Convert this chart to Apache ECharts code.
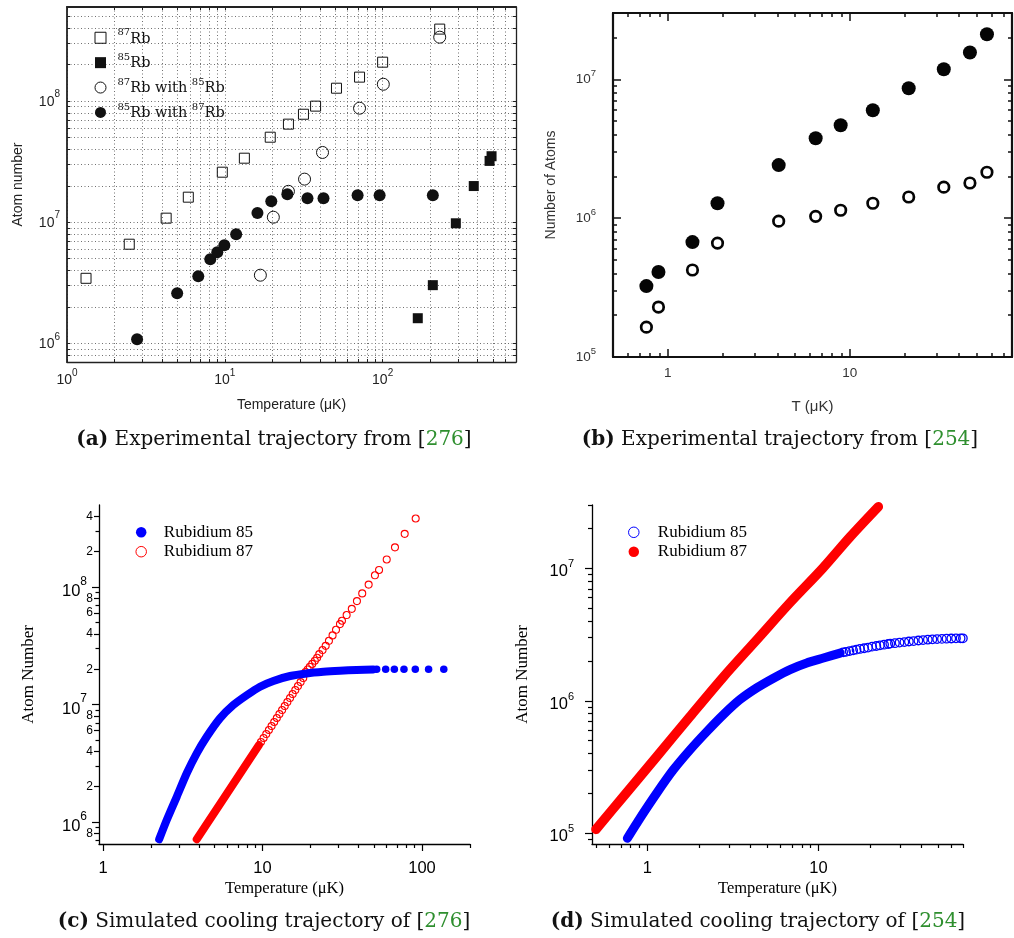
<!DOCTYPE html>
<html><head><meta charset="utf-8">
<script src="https://cdn.jsdelivr.net/npm/echarts@6/dist/echarts.min.js"></script>
<style>html,body{margin:0;padding:0;background:#fff}#c{width:1014px;height:938px}</style>
</head><body><div id="c"></div>
<script>
// ---------------- Panel (a): experimental trajectory from [276] ----------------
const a_rb87 = [[1.32,3.44e6],[2.48,6.58e6],[4.25,1.08e7],[5.87,1.61e7],[9.64,2.59e7],[13.3,3.38e7],[19.4,5.04e7],[25.3,6.46e7],[31.5,7.8e7],[37.6,9.1e7],[51,1.28e8],[71.4,1.58e8],[100,2.1e8],[230,3.94e8]];
const a_rb85 = [[167,1.61e6],[208,3.02e6],[291,9.8e6],[378,1.99e7],[476,3.21e7],[490,3.51e7]];
const a_rb87with85 = [[16.8,3.65e6],[20.3,1.10e7],[25.3,1.80e7],[32,2.27e7],[41.6,3.77e7],[71.4,8.75e7],[101,1.38e8],[230,3.38e8]];
const a_rb85with87 = [[2.78,1.08e6],[4.99,2.59e6],[6.79,3.58e6],[8.09,4.94e6],[8.96,5.65e6],[9.93,6.45e6],[11.8,7.96e6],[16.1,1.19e7],[19.7,1.49e7],[24.9,1.70e7],[33.4,1.58e7],[42.2,1.58e7],[69.4,1.67e7],[95.7,1.67e7],[208,1.67e7]];
// ---------------- Panel (b): experimental trajectory from [254] ----------------
const b_filled = [[0.763,3.24e5],[0.889,4.09e5],[1.367,6.72e5],[1.877,1.28e6],[4.07,2.41e6],[6.50,3.76e6],[8.92,4.67e6],[13.4,5.98e6],[21.1,8.62e6],[32.9,1.18e7],[45.8,1.56e7],[56.8,2.11e7]];
const b_open = [[0.763,1.64e5],[0.889,2.29e5],[1.367,4.23e5],[1.877,6.61e5],[4.07,9.51e5],[6.50,1.03e6],[8.92,1.14e6],[13.4,1.28e6],[21.1,1.42e6],[32.9,1.67e6],[45.8,1.79e6],[56.8,2.14e6]];
// ---------------- Panel (c): simulated trajectory of [276] ----------------
const c_rb85_band = [[2.25,7.13e5],[2.51,1.04e6],[2.90,1.64e6],[3.35,2.60e6],[3.87,3.84e6],[4.47,5.32e6],[5.41,7.63e6],[6.56,9.90e6],[7.96,1.20e7],[9.65,1.42e7],[11.7,1.59e7],[14.9,1.75e7],[18.9,1.84e7],[24.1,1.90e7],[30.6,1.94e7],[38.9,1.97e7],[49.5,1.99e7]];
const c_rb85_dots = [[52.0,2.0e7],[59.2,2.0e7],[67.1,2.0e7],[77.1,2.0e7],[90.8,2.0e7],[110,2.0e7],[137,2.0e7]];
const c_rb87_band = [[3.87,7.13e5],[5.63,1.54e6],[8.24,3.37e6],[9.51,4.52e6]];
const c_rb87_rings = [[9.78,4.80e6],[10.16,5.19e6],[10.56,5.61e6],[10.97,6.07e6],[11.40,6.56e6],[11.84,7.10e6],[12.30,7.68e6],[12.77,8.30e6],[13.27,8.98e6],[13.79,9.71e6],[14.32,1.05e7],[14.88,1.136e7],[15.46,1.229e7],[16.06,1.329e7],[16.69,1.437e7],[17.34,1.554e7],[18.01,1.681e7],[18.6,1.89e7],[19.2,1.99e7],[19.8,2.10e7],[20.5,2.22e7],[21.3,2.36e7],[22.0,2.50e7],[22.7,2.69e7],[23.8,2.91e7],[24.9,3.16e7],[26.1,3.49e7],[27.5,3.88e7],[28.9,4.33e7],[30.6,4.84e7],[31.5,5.17e7],[33.7,5.78e7],[36.3,6.53e7],[39.1,7.60e7],[42.2,8.84e7],[46.3,1.05e8],[50.7,1.26e8],[53.8,1.40e8],[60.1,1.72e8],[67.7,2.18e8],[77.9,2.84e8],[91.3,3.84e8]];
// ---------------- Panel (d): simulated trajectory of [254] ----------------
const d_rb85_band = [[0.764,9.17e4],[0.906,1.30e5],[1.135,2.01e5],[1.419,3.01e5],[1.777,4.26e5],[2.23,5.86e5],[2.78,7.84e5],[3.48,1.02e6],[4.36,1.25e6],[5.46,1.48e6],[6.83,1.72e6],[8.55,1.93e6],[10.7,2.10e6],[13.4,2.29e6]];
const d_rb85_rings = [[13.95,2.32e6],[14.5,2.34e6],[15.2,2.37e6],[15.96,2.40e6],[16.7,2.43e6],[17.5,2.46e6],[18.5,2.49e6],[19.5,2.52e6],[20.6,2.56e6],[21.8,2.59e6],[22.9,2.62e6],[24.2,2.65e6],[25.6,2.68e6],[26.3,2.70e6],[28.0,2.72e6],[29.8,2.75e6],[31.8,2.77e6],[33.8,2.80e6],[36.0,2.82e6],[38.4,2.85e6],[40.9,2.87e6],[43.6,2.89e6],[46.4,2.91e6],[49.4,2.92e6],[52.7,2.93e6],[56.1,2.94e6],[59.8,2.95e6],[63.7,2.96e6],[67.8,2.96e6],[69.9,2.96e6]];
const d_rb87 = [[0.501,1.07e5],[0.724,1.89e5],[1.135,3.79e5],[1.777,7.61e5],[2.78,1.51e6],[4.36,2.88e6],[6.83,5.5e6],[10.6,1.0e7],[15.3,1.72e7],[22.4,2.91e7]];
// ---------------- tick labels ----------------
const aXLabels = [1, 10, 100];
const aYLabels = [1e6, 1e7, 1e8];
const bXLabels = [1, 10];
const bYLabels = [1e5, 1e6, 1e7];
const cXLabels = [1, 10, 100];
const cYLabels = [1e6, 1e7, 1e8];
const cYSmallLabels = [8e5, 2e6, 4e6, 6e6, 8e6, 2e7, 4e7, 6e7, 8e7, 2e8, 4e8];
const dXLabels = [1, 10];
const dYLabels = [1e5, 1e6, 1e7];
const aLegendNames = ['87Rb', '85Rb', '87Rb with 85Rb', '85Rb with 87Rb'];
const cLegendNames = ['Rubidium 85', 'Rubidium 87'];
const captions = [
  ['(a)', 'Experimental trajectory from [', '276', ']'],
  ['(b)', 'Experimental trajectory from [', '254', ']'],
  ['(c)', 'Simulated cooling trajectory of [', '276', ']'],
  ['(d)', 'Simulated cooling trajectory of [', '254', ']']
];

// ---------------- helpers ----------------
function logTicks(lo, hi, mults) {
  const out = [];
  for (let e = -2; e <= 9; e++) for (const m of mults) {
    const v = parseFloat((m * Math.pow(10, e)).toPrecision(6));
    if (v >= lo && v <= hi) out.push(v);
  }
  return out;
}
const ALL = [1,2,3,4,5,6,7,8,9], MIN = [2,3,4,5,6,7,8,9];
const SANS = 'Liberation Sans, Arial, sans-serif';
const SERIF = 'Liberation Serif, Times New Roman, serif';
const DSERIF = 'DejaVu Serif, serif';
function supRich(base, sup, baseOff, supOff, family, color) {
  const L = base + 2 * baseOff;
  const Hs = Math.max(1, L + 2 * supOff);
  return {
    b: {fontSize: base, fontFamily: family, color: color, height: base, lineHeight: L, verticalAlign: 'bottom'},
    s: {fontSize: sup, fontFamily: family, color: color, height: Hs, lineHeight: L, verticalAlign: 'top'}
  };
}
const powLabel = v => '{b|10}{s|' + Math.round(Math.log10(v)) + '}';
const lead = v => String(Math.round(v / Math.pow(10, Math.floor(Math.log10(v) + 1e-9))));
function ax(grid, min, max, extra) {
  return Object.assign({type: 'log', logBase: 10, gridIndex: grid, min: min, max: max,
    axisLine: {show: false}, axisTick: {show: false}, axisLabel: {show: false},
    splitLine: {show: false}, axisPointer: {show: false}}, extra);
}
const line = (c, w) => ({show: true, onZero: false, lineStyle: {color: c, width: w}});
const ticks = (vals, len, inside, c, w) => ({show: true, inside: inside, length: len, customValues: vals, lineStyle: {color: c, width: w}});

const richA = supRich(14, 10, 0.5, -6.5, SANS, '#222');
const richB = supRich(13.5, 9.5, 0.5, -5.5, SANS, '#333');
const richC = supRich(16.5, 12, 4.5, -5.5, SANS, '#000');
const richD = supRich(16.5, 11, 3.5, -4, SANS, '#000');
const richLeg = supRich(14.5, 10, 1, -5, DSERIF, '#111');

const aXT = logTicks(1, 700, ALL), aYT = logTicks(7e5, 6e8, ALL);
const bXMinor = logTicks(0.55, 78, MIN), bYMinor = logTicks(1e5, 2.9e7, MIN);
const cXMinor = logTicks(1, 200, MIN), cYMinor = logTicks(6.5e5, 4.9e8, [3,5,7,9]);
const dXMinor = logTicks(0.5, 70, MIN), dYMinor = logTicks(8.3e4, 3e7, MIN);
const dotted = {show: true, lineStyle: {color: '#707070', width: 1, type: [1, 2.5]}};

const xAxis = [
  // (a) 0,1
  ax(0, 1, 700, {position: 'bottom', axisLine: line('#222', 1.3), axisTick: ticks(aXT, 3, true, '#222', 1),
    axisLabel: {show: true, customValues: aXLabels, formatter: powLabel, margin: 10, rich: richA},
    splitLine: dotted, name: 'Temperature (μK)', nameLocation: 'middle', nameGap: 36,
    nameTextStyle: {fontFamily: SANS, fontSize: 14, color: '#222'}}),
  ax(0, 1, 700, {position: 'top', axisLine: line('#222', 1.8), axisTick: ticks(aXT, 3, true, '#222', 1)}),
  // (b) 2..5
  ax(1, 0.5, 78, {position: 'bottom', axisLine: line('#111', 2.2), axisTick: ticks(bXLabels, 8, true, '#111', 1.5),
    axisLabel: {show: true, customValues: bXLabels, formatter: v => String(v), margin: 9, fontFamily: SANS, fontSize: 13.5, color: '#333'},
    name: 'T (μK)', nameLocation: 'middle', nameGap: 42, nameTextStyle: {fontFamily: SANS, fontSize: 15, color: '#333'}}),
  ax(1, 0.5, 78, {position: 'bottom', axisTick: ticks(bXMinor, 4, true, '#111', 1.5)}),
  ax(1, 0.5, 78, {position: 'top', axisLine: line('#111', 2.2), axisTick: ticks(bXLabels, 8, true, '#111', 1.5)}),
  ax(1, 0.5, 78, {position: 'top', axisTick: ticks(bXMinor, 4, true, '#111', 1.5)}),
  // (c) 6,7
  ax(2, 0.944, 200, {position: 'bottom', axisLine: line('#000', 1.3), axisTick: ticks(cXLabels, 7, false, '#000', 1.2),
    axisLabel: {show: true, customValues: cXLabels, formatter: v => String(v), margin: 16, fontFamily: SANS, fontSize: 16.5, color: '#000'},
    name: 'Temperature (μK)', nameLocation: 'middle', nameGap: 36.5, nameTextStyle: {fontFamily: SERIF, fontSize: 16.5, color: '#000'}}),
  ax(2, 0.944, 200, {position: 'bottom', axisTick: ticks(cXMinor, 4, false, '#000', 1.2)}),
  // (d) 8,9
  ax(3, 0.475, 70, {position: 'bottom', axisLine: line('#000', 1.3), axisTick: ticks(dXLabels, 7, false, '#000', 1.2),
    axisLabel: {show: true, customValues: dXLabels, formatter: v => String(v), margin: 16, fontFamily: SANS, fontSize: 16.5, color: '#000'},
    name: 'Temperature (μK)', nameLocation: 'middle', nameGap: 36.5, nameTextStyle: {fontFamily: SERIF, fontSize: 16.5, color: '#000'}}),
  ax(3, 0.475, 70, {position: 'bottom', axisTick: ticks(dXMinor, 4, false, '#000', 1.2)})
];
const yAxis = [
  // (a) 0,1
  ax(0, 7e5, 6e8, {position: 'left', axisLine: line('#222', 1.8), axisTick: ticks(aYT, 3, true, '#222', 1),
    axisLabel: {show: true, customValues: aYLabels, formatter: powLabel, margin: 7, rich: richA},
    splitLine: dotted, name: 'Atom number', nameLocation: 'middle', nameGap: 42, nameRotate: 90,
    nameTextStyle: {fontFamily: SANS, fontSize: 14, color: '#222'}}),
  ax(0, 7e5, 6e8, {position: 'right', axisLine: line('#222', 1.3), axisTick: ticks(aYT, 3, true, '#222', 1)}),
  // (b) 2..5
  ax(1, 1e5, 3e7, {position: 'left', axisLine: line('#111', 2.2), axisTick: ticks(bYLabels, 8, true, '#111', 1.5),
    axisLabel: {show: true, customValues: bYLabels, formatter: powLabel, margin: 17, rich: richB},
    name: 'Number of Atoms', nameLocation: 'middle', nameGap: 55, nameRotate: 90,
    nameTextStyle: {fontFamily: SANS, fontSize: 14, color: '#333'}}),
  ax(1, 1e5, 3e7, {position: 'left', axisTick: ticks(bYMinor, 4, true, '#111', 1.5)}),
  ax(1, 1e5, 3e7, {position: 'right', axisLine: line('#111', 2.2), axisTick: ticks(bYLabels, 8, true, '#111', 1.5)}),
  ax(1, 1e5, 3e7, {position: 'right', axisTick: ticks(bYMinor, 4, true, '#111', 1.5)}),
  // (c) 6,7,8
  ax(2, 6.5e5, 5e8, {position: 'left', axisLine: line('#000', 1.3), axisTick: ticks(cYLabels, 7, false, '#000', 1.2),
    axisLabel: {show: true, customValues: cYLabels, formatter: powLabel, margin: 12, rich: richC},
    name: 'Atom Number', nameLocation: 'middle', nameGap: 62, nameRotate: 90,
    nameTextStyle: {fontFamily: SERIF, fontSize: 17, color: '#000'}}),
  ax(2, 6.5e5, 5e8, {position: 'left', axisTick: ticks(cYSmallLabels, 5, false, '#000', 1.2),
    axisLabel: {show: true, customValues: cYSmallLabels, formatter: lead, margin: 6, fontFamily: SANS, fontSize: 12, color: '#000'}}),
  ax(2, 6.5e5, 5e8, {position: 'left', axisTick: ticks(cYMinor, 3.5, false, '#000', 1.2)}),
  // (d) 9,10
  ax(3, 8.3e4, 3e7, {position: 'left', axisLine: line('#000', 1.3), axisTick: ticks(dYLabels, 7, false, '#000', 1.2),
    axisLabel: {show: true, customValues: dYLabels, formatter: powLabel, margin: 18, rich: richD},
    name: 'Atom Number', nameLocation: 'middle', nameGap: 60.5, nameRotate: 90,
    nameTextStyle: {fontFamily: SERIF, fontSize: 17, color: '#000'}}),
  ax(3, 8.3e4, 3e7, {position: 'left', axisTick: ticks(dYMinor, 4, false, '#000', 1.2)})
];

const OPEN = 'rgba(0,0,0,0)';
const SQ = 'path://M0,0H10V10H0Z';
const series = [
  {type: 'scatter', name: aLegendNames[0], xAxisIndex: 0, yAxisIndex: 0, data: a_rb87, symbol: 'rect', symbolSize: 10,
    itemStyle: {color: OPEN, borderColor: '#111', borderWidth: 1, opacity: 1}},
  {type: 'scatter', name: aLegendNames[1], xAxisIndex: 0, yAxisIndex: 0, data: a_rb85, symbol: 'rect', symbolSize: 10,
    itemStyle: {color: '#111', opacity: 1}},
  {type: 'scatter', name: aLegendNames[3], xAxisIndex: 0, yAxisIndex: 0, data: a_rb85with87, symbol: 'circle', symbolSize: 12,
    itemStyle: {color: '#111', opacity: 1}},
  {type: 'scatter', name: aLegendNames[2], xAxisIndex: 0, yAxisIndex: 0, data: a_rb87with85, symbol: 'circle', symbolSize: 12,
    itemStyle: {color: OPEN, borderColor: '#111', borderWidth: 1, opacity: 1}},
  {type: 'scatter', name: 'b filled', xAxisIndex: 2, yAxisIndex: 2, data: b_filled, symbol: 'circle', symbolSize: 14,
    itemStyle: {color: '#050505', opacity: 1}},
  {type: 'scatter', name: 'b open', xAxisIndex: 2, yAxisIndex: 2, data: b_open, symbol: 'circle', symbolSize: 10.5,
    itemStyle: {color: OPEN, borderColor: '#050505', borderWidth: 2.7, opacity: 1}},
  {type: 'line', name: 'c85 band', xAxisIndex: 6, yAxisIndex: 6, data: c_rb85_band, showSymbol: false, symbol: 'none', smooth: 0.2,
    lineStyle: {color: '#0000ff', width: 8, cap: 'round', join: 'round', opacity: 1}},
  {type: 'scatter', name: cLegendNames[0], xAxisIndex: 6, yAxisIndex: 6, data: c_rb85_dots, symbol: 'circle', symbolSize: 7.5,
    itemStyle: {color: '#0000ff', opacity: 1}},
  {type: 'line', name: 'c87 band', xAxisIndex: 6, yAxisIndex: 6, data: c_rb87_band, showSymbol: false, symbol: 'none',
    lineStyle: {color: '#ff0000', width: 8, cap: 'round', join: 'round', opacity: 1}},
  {type: 'scatter', name: cLegendNames[1], xAxisIndex: 6, yAxisIndex: 6, data: c_rb87_rings, symbol: 'circle', symbolSize: 7,
    itemStyle: {color: OPEN, borderColor: '#ff0000', borderWidth: 1.1, opacity: 1}},
  {type: 'line', name: cLegendNames[0] + ' (d)', xAxisIndex: 8, yAxisIndex: 9, data: d_rb85_band, showSymbol: false, symbol: 'none', smooth: 0.2,
    lineStyle: {color: '#0000ff', width: 9, cap: 'round', join: 'round', opacity: 1}, itemStyle: {color: '#0000ff'}},
  {type: 'scatter', name: 'd85 rings', xAxisIndex: 8, yAxisIndex: 9, data: d_rb85_rings, symbol: 'circle', symbolSize: 8.5,
    itemStyle: {color: OPEN, borderColor: '#0000ff', borderWidth: 1.3, opacity: 1}},
  {type: 'line', name: cLegendNames[1] + ' (d)', xAxisIndex: 8, yAxisIndex: 9, data: d_rb87, showSymbol: false, symbol: 'none', smooth: 0.3,
    lineStyle: {color: '#ff0000', width: 9.5, cap: 'round', join: 'round', opacity: 1}, itemStyle: {color: '#ff0000'}}
];

const aLegRich = {};
aLegRich[aLegendNames[0]] = '{s|87}{b|Rb}';
aLegRich[aLegendNames[1]] = '{s|85}{b|Rb}';
aLegRich[aLegendNames[2]] = '{s|87}{b|Rb with }{s|85}{b|Rb}';
aLegRich[aLegendNames[3]] = '{s|85}{b|Rb with }{s|87}{b|Rb}';

const legend = [
  {orient: 'vertical', left: 94.5, top: 27.75, padding: 0, itemGap: 6.4, itemWidth: 24, itemHeight: 11, selectedMode: false,
    data: [
      {name: aLegendNames[0], icon: SQ, itemStyle: {color: OPEN, borderColor: '#111', borderWidth: 1}},
      {name: aLegendNames[1], icon: SQ, itemStyle: {color: '#111', borderWidth: 0}},
      {name: aLegendNames[2], icon: 'circle', itemStyle: {color: OPEN, borderColor: '#111', borderWidth: 1}},
      {name: aLegendNames[3], icon: 'circle', itemStyle: {color: '#111', borderWidth: 0}}
    ],
    formatter: n => aLegRich[n], textStyle: {rich: richLeg}},
  {orient: 'vertical', left: 135.45, top: 523.8, padding: 0, itemGap: 2.4, itemWidth: 35.2, itemHeight: 10.5, selectedMode: false,
    data: [
      {name: cLegendNames[0], icon: 'circle', itemStyle: {color: '#0000ff', borderWidth: 0}},
      {name: cLegendNames[1], icon: 'circle', itemStyle: {color: OPEN, borderColor: '#ff0000', borderWidth: 1}}
    ],
    textStyle: {fontFamily: SERIF, fontSize: 17, lineHeight: 17, color: '#000'}},
  {orient: 'vertical', left: 628.05, top: 523.8, padding: 0, itemGap: 2.4, itemWidth: 38, itemHeight: 10.5, selectedMode: false,
    data: [
      {name: cLegendNames[0] + ' (d)', icon: 'circle', itemStyle: {color: OPEN, borderColor: '#0000ff', borderWidth: 1}},
      {name: cLegendNames[1] + ' (d)', icon: 'circle', itemStyle: {color: '#ff0000', borderWidth: 0}}
    ],
    formatter: n => n.replace(' (d)', ''),
    textStyle: {fontFamily: SERIF, fontSize: 17, lineHeight: 17, color: '#000'}}
];

const capPos = [[274, 440], [780, 440], [264, 922], [758, 922]];
const graphic = captions.map((c, i) => ({
  type: 'text', x: capPos[i][0], y: capPos[i][1], silent: true,
  style: {
    text: '{k|' + c[0] + '} ' + c[1] + '{g|' + c[2] + '}' + c[3],
    align: 'center', verticalAlign: 'middle',
    fontFamily: DSERIF, fontSize: 20, fill: '#111',
    rich: {k: {fontFamily: DSERIF, fontSize: 20, fontWeight: 'bold', fill: '#111'},
           g: {fontFamily: DSERIF, fontSize: 20, fill: '#2f8f2f'}}
  }
}));

const chart = echarts.init(document.getElementById('c'), null, {renderer: 'canvas', width: 1014, height: 938});
chart.setOption({
  animation: false,
  backgroundColor: '#ffffff',
  grid: [
    {left: 67, top: 7, width: 449, height: 355},
    {left: 613, top: 13, width: 399, height: 344},
    {left: 99, top: 505, width: 371, height: 339},
    {left: 592, top: 505, width: 371, height: 339}
  ],
  xAxis: xAxis, yAxis: yAxis, legend: legend, series: series, graphic: graphic
});
</script></body></html>
